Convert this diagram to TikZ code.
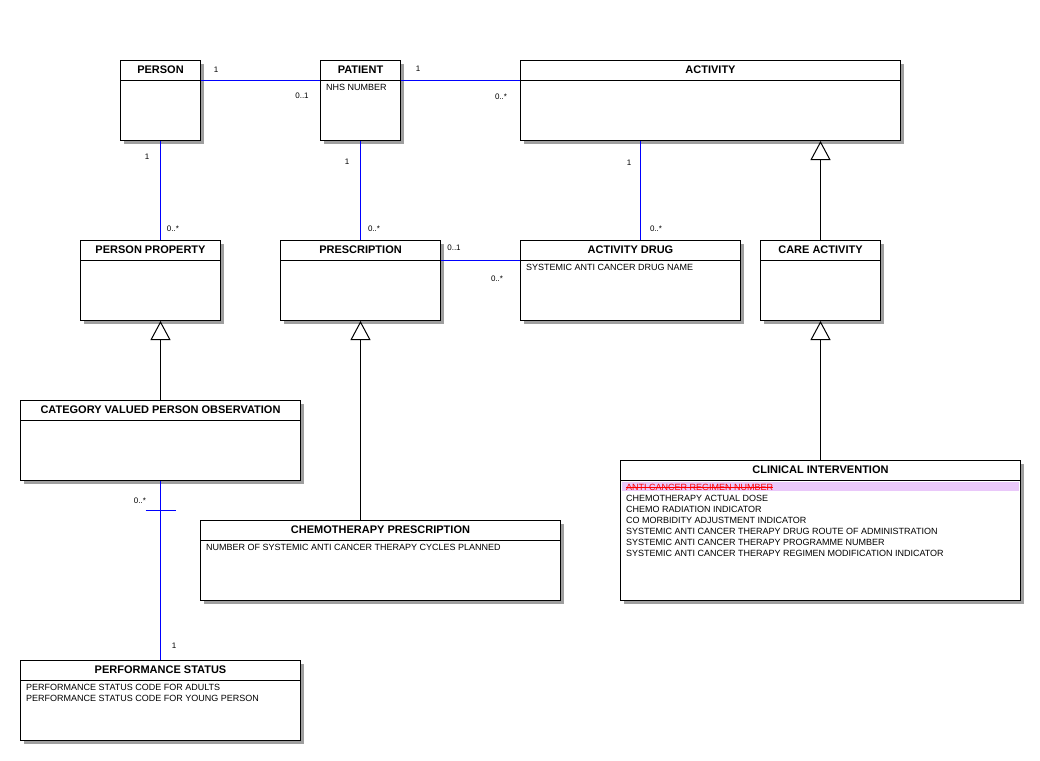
\documentclass[tikz,border=0pt]{standalone}
\usepackage{fontspec}
\setmainfont{Liberation Sans}
\usetikzlibrary{arrows.meta,shadows}

\definecolor{attrpink}{RGB}{234,200,250}

\tikzset{
  classbox/.style={draw, fill=white, line width=1pt, anchor=north west,
    drop shadow={shadow xshift=3pt, shadow yshift=-3pt, fill=gray!75, opacity=1}},
  classtitle/.style={font=\fontsize{11}{12}\selectfont\bfseries, inner sep=0pt},
  attrs/.style={anchor=north west, inner sep=0pt, align=left, font=\fontsize{9}{11}\selectfont},
  mult/.style={font=\fontsize{8}{9}\selectfont, inner sep=0pt},
  assoc/.style={draw=blue, line width=1pt},
  inherit/.style={draw=black, line width=1pt, -{Triangle[open, length=19pt, width=20pt, line width=1pt]}},
}

% name, x, y, width, height, title
\newcommand{\umlclass}[6]{%
  \node[classbox, minimum width=#4pt, minimum height=#5pt] (#1) at (#2,#3) {};
  \draw[line width=1pt] ([yshift=-20pt]#1.north west) -- ([yshift=-20pt]#1.north east);
  \node[classtitle] (#1-title) at ([yshift=-10pt]#1.north) {#6};
}

\begin{document}
\begin{tikzpicture}[x=1pt, y=-1pt]
  \useasboundingbox (0,0) rectangle (1040,760);

  % classes
  \umlclass{person}{120}{60}{80}{80}{PERSON}
  \umlclass{patient}{320}{60}{80}{80}{PATIENT}
  \umlclass{activity}{520}{60}{380}{80}{ACTIVITY}
  \umlclass{personprop}{80}{240}{140}{80}{PERSON PROPERTY}
  \umlclass{prescription}{280}{240}{160}{80}{PRESCRIPTION}
  \umlclass{actdrug}{520}{240}{220}{80}{ACTIVITY DRUG}
  \umlclass{careact}{760}{240}{120}{80}{CARE ACTIVITY}
  \umlclass{catobs}{20}{400}{280}{80}{CATEGORY VALUED PERSON OBSERVATION}
  \umlclass{chemo}{200}{520}{360}{80}{CHEMOTHERAPY PRESCRIPTION}
  \umlclass{clinical}{620}{460}{400}{140}{CLINICAL INTERVENTION}
  \umlclass{perfstatus}{20}{660}{280}{80}{PERFORMANCE STATUS}

  % attributes
  \node[attrs] (patient-attrs) at ([shift={(6pt,-24.5pt)}]patient.north west) {NHS NUMBER};
  \node[attrs] (actdrug-attrs) at ([shift={(6pt,-24.5pt)}]actdrug.north west) {SYSTEMIC ANTI CANCER DRUG NAME};
  \node[attrs] (chemo-attrs) at ([shift={(6pt,-24.5pt)}]chemo.north west) {NUMBER OF SYSTEMIC ANTI CANCER THERAPY CYCLES PLANNED};
  \fill[attrpink] ([shift={(2pt,-22pt)}]clinical.north west) rectangle ([shift={(-2pt,-31pt)}]clinical.north east);
  \node[attrs, text=red] (clinical-removed) at ([shift={(6pt,-24.5pt)}]clinical.north west) {ANTI CANCER REGIMEN NUMBER};
  \draw[red, line width=1pt] (clinical-removed.west) -- (clinical-removed.east);
  \node[attrs] (clinical-attrs) at ([shift={(6pt,-35.5pt)}]clinical.north west)
    {CHEMOTHERAPY ACTUAL DOSE\\
     CHEMO RADIATION INDICATOR\\
     CO MORBIDITY ADJUSTMENT INDICATOR\\
     SYSTEMIC ANTI CANCER THERAPY DRUG ROUTE OF ADMINISTRATION\\
     SYSTEMIC ANTI CANCER THERAPY PROGRAMME NUMBER\\
     SYSTEMIC ANTI CANCER THERAPY REGIMEN MODIFICATION INDICATOR};
  \node[attrs] (perfstatus-attrs) at ([shift={(6pt,-24.5pt)}]perfstatus.north west)
    {PERFORMANCE STATUS CODE FOR ADULTS\\
     PERFORMANCE STATUS CODE FOR YOUNG PERSON};

  % associations
  \draw[assoc] ([yshift=-20pt]person.north east) -- ([yshift=-20pt]patient.north west);
  \node[mult] (m-person-patient) at (216,70) {1};
  \node[mult] (m-patient-person) at (302,96) {0..1};

  \draw[assoc] ([yshift=-20pt]patient.north east) -- ([yshift=-20pt]activity.north west);
  \node[mult] (m-patient-activity) at (418,69) {1};
  \node[mult] (m-activity-patient) at (501,97) {0..*};

  \draw[assoc] (person.south) -- (person.south |- personprop.north);
  \node[mult] (m-person-prop) at (147,157) {1};
  \node[mult] (m-prop-person) at (173,229) {0..*};

  \draw[assoc] (patient.south) -- (patient.south |- prescription.north);
  \node[mult] (m-patient-presc) at (347,162) {1};
  \node[mult] (m-presc-patient) at (374,229) {0..*};

  \draw[assoc] ([xshift=120pt]activity.south west) -- ([xshift=120pt]actdrug.north west);
  \node[mult] (m-activity-drug) at (629,163) {1};
  \node[mult] (m-drug-activity) at (656,229) {0..*};

  \draw[assoc] ([yshift=-20pt]prescription.north east) -- ([yshift=-20pt]actdrug.north west);
  \node[mult] (m-presc-drug) at (454,248) {0..1};
  \node[mult] (m-drug-presc) at (497,279) {0..*};

  \draw[assoc] (catobs.south) -- (perfstatus.north);
  \draw[assoc] ([shift={(-15pt,-29.5pt)}]catobs.south) -- ([shift={(15pt,-29.5pt)}]catobs.south);
  \node[mult] (m-obs-status) at (140,501) {0..*};
  \node[mult] (m-status-obs) at (174,646) {1};

  % generalisations
  \draw[inherit] (catobs.north) -- (catobs.north |- personprop.south);
  \draw[inherit] (prescription.south |- chemo.north) -- (prescription.south);
  \draw[inherit] (careact.north) -- (careact.north |- activity.south);
  \draw[inherit] (clinical.north) -- (careact.south);
\end{tikzpicture}
\end{document}
